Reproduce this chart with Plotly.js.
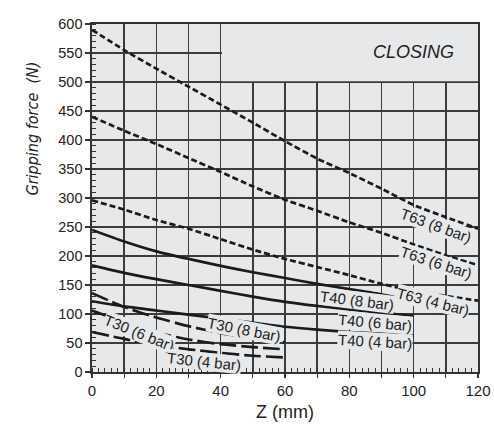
<!DOCTYPE html>
<html>
<head>
<meta charset="utf-8">
<script src="https://cdn.plot.ly/plotly-3.0.1.min.js"></script>
<style>html,body{margin:0;padding:0;background:#fff;}#chart{width:494px;height:428px;}</style>
</head>
<body>
<div id="chart"></div>
<script>
// Data
const zLong = [0, 10, 20, 30, 40, 50, 60, 70, 80, 90, 100, 110, 120];
const zT40 = [0, 10, 20, 30, 40, 50, 60, 70, 80, 90, 100];
const zT40_8 = [0, 10, 20, 30, 40, 50, 60, 70, 80, 90, 94];
const zT30 = [0, 10, 20, 30, 40, 50, 60];

const t63_8 = [590, 555, 523, 492, 461, 430, 398, 368, 343, 316, 288, 267, 247];
const t63_6 = [440, 416, 393, 369, 345, 320, 297, 278, 258, 240, 220, 201, 184];
const t63_4 = [296, 280, 262, 247, 229, 211, 195, 181, 167, 152, 140, 131, 123];
const t40_8 = [245, 225, 208, 195, 183, 172, 162, 152, 143, 134, 129];
const t40_6 = [184, 171, 160, 150, 140, 130, 121, 114, 108, 102, 97];
const t40_4 = [122, 113, 106, 99, 92, 85, 78, 73, 69, 66, 63];
const t30_8 = [136, 112, 94, 79, 67, 58, 51];
const t30_6 = [106, 86, 68, 56, 48, 43, 39];
const t30_4 = [69, 57, 47, 39, 33, 28, 25];

const labelText = ["T63 (8 bar)", "T63 (6 bar)", "T63 (4 bar)", "T40 (8 bar)", "T40 (6 bar)", "T40 (4 bar)", "T30 (8 bar)", "T30 (6 bar)", "T30 (4 bar)"];
const labelX = [107, 107, 106, 82.5, 88, 88, 47.2, 14.5, 34.8];
const labelY = [253, 188, 122, 123.5, 86, 52, 73.6, 67.6, 18.8];
const labelAngle = [20, 18, 14, 7, 5, 3, 11, 22, 6];

const xGrid = [0, 10, 20, 30, 40, 50, 60, 70, 80, 90, 100, 110, 120];
const xTickText = ['0', '', '20', '', '40', '', '60', '', '80', '', '100', '', '120'];
const yTicks = [0, 50, 100, 150, 200, 250, 300, 350, 400, 450, 500, 550, 600];

const ink = '#1b1b1b';
const bg = '#e7e8ea';
const gridCol = '#3c3c3c';
const shortDash = '6px,3px';
const longDash = '17px,5px';

function tr(x, y, dash) {
  return {x: x, y: y, type: 'scatter', mode: 'lines', line: {color: ink, width: 2.7, dash: dash, shape: 'spline', smoothing: 0.6}, hoverinfo: 'skip', showlegend: false};
}

const data = [
  tr(zLong, t63_8, shortDash),
  tr(zLong, t63_6, shortDash),
  tr(zLong, t63_4, shortDash),
  tr(zT40_8, t40_8, 'solid'),
  tr(zT40, t40_6, 'solid'),
  tr(zT40, t40_4, 'solid'),
  tr(zT30, t30_8, longDash),
  tr(zT30, t30_6, longDash),
  tr(zT30, t30_4, longDash)
];

const annotations = labelText.map((t, i) => ({
  text: t, x: labelX[i], y: labelY[i], xref: 'x', yref: 'y', showarrow: false,
  textangle: labelAngle[i], bgcolor: bg, borderpad: 0,
  font: {family: 'Liberation Sans, Arial, sans-serif', size: 15, color: '#222'}
}));
annotations.push({
  text: 'CLOSING', x: 100, y: 551, xref: 'x', yref: 'y', showarrow: false,
  font: {family: 'Liberation Sans, Arial, sans-serif', size: 18, color: '#222', style: 'italic'}
});
annotations.push({
  text: 'Gripping force  (N)', x: -0.185, y: 420, xref: 'paper', yref: 'y', showarrow: false,
  textangle: -90,
  font: {family: 'Liberation Sans Narrow, DejaVu Sans Condensed, sans-serif', size: 16, color: '#222', style: 'italic'}
});

const layout = {
  width: 494, height: 428,
  margin: {l: 92, r: 16, t: 24, b: 56},
  paper_bgcolor: '#ffffff', plot_bgcolor: bg,
  showlegend: false,
  xaxis: {
    range: [0, 120], tickmode: 'array', tickvals: xGrid, ticktext: xTickText,
    showgrid: true, gridcolor: gridCol, gridwidth: 1.4,
    zeroline: false, showline: true, linecolor: '#333', linewidth: 1.6, mirror: true,
    ticks: 'outside', ticklen: 4, tickcolor: '#333', tickwidth: 1.2,
    minor: {dtick: 2, ticks: 'inside', ticklen: 4, tickcolor: '#333', tickwidth: 1, showgrid: false},
    tickfont: {family: 'Liberation Sans, Arial, sans-serif', size: 15, color: '#222'},
    title: {text: 'Z (mm)', standoff: 8, font: {family: 'Liberation Sans, Arial, sans-serif', size: 18, color: '#222'}},
    fixedrange: true
  },
  yaxis: {
    range: [0, 600], tickmode: 'array', tickvals: yTicks, ticktext: yTicks.map(String),
    showgrid: true, gridcolor: gridCol, gridwidth: 1.4,
    zeroline: false, showline: true, linecolor: '#333', linewidth: 1.6, mirror: true,
    ticks: 'outside', ticklen: 5, tickcolor: '#333', tickwidth: 1.2,
    minor: {dtick: 10, ticks: 'inside', ticklen: 4, tickcolor: '#333', tickwidth: 1, showgrid: false},
    tickfont: {family: 'Liberation Sans, Arial, sans-serif', size: 14.5, color: '#222'},
    fixedrange: true
  },
  annotations: annotations,
  shapes: [
    // blank "CLOSING" box: hides grid lines in the top-right corner
    {type: 'rect', xref: 'x', yref: 'y', x0: 40.4, x1: 120, y0: 501.5, y1: 600, fillcolor: bg, line: {width: 0}, layer: 'between'}
  ]
};

Plotly.newPlot('chart', data, layout, {displayModeBar: false, staticPlot: true});
</script>
</body>
</html>
